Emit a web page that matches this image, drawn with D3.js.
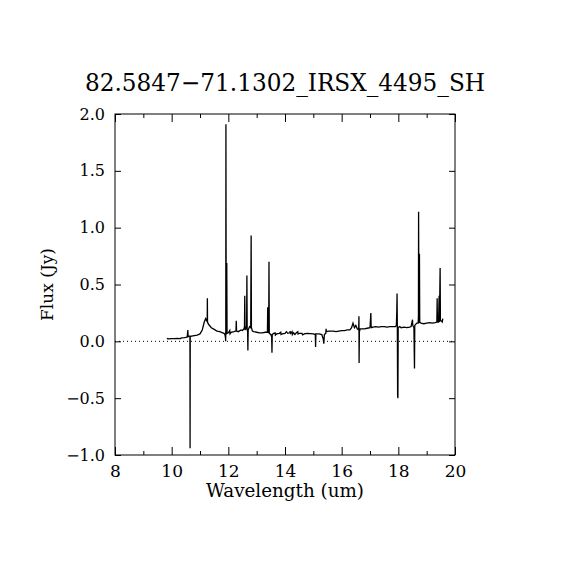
<!DOCTYPE html>
<html>
<head>
<meta charset="utf-8">
<script src="https://cdn.jsdelivr.net/npm/d3@7"></script>
<style>
  body { margin: 0; background: #fff; }
  text { font-family: "DejaVu Serif", "Liberation Serif", serif; fill: #000; }
</style>
</head>
<body>
<script>
// IRS SH spectrum

var title = '82.5847\u221271.1302_IRSX_4495_SH';

var wavelength = [
  9.83, 9.90, 10.00, 10.10, 10.20, 10.30, 10.36, 10.45, 10.50, 10.55,
  10.57, 10.58, 10.62, 10.645, 10.65, 10.655, 10.70, 10.80, 10.90, 11.00,
  11.08, 11.15, 11.20, 11.24, 11.255, 11.26, 11.265, 11.30, 11.40, 11.50,
  11.60, 11.70, 11.80, 11.85, 11.88, 11.90, 11.905, 11.91, 11.915, 11.925,
  11.94, 11.945, 11.955, 12.00, 12.05, 12.06, 12.10, 12.20, 12.27, 12.28,
  12.29, 12.35, 12.45, 12.50, 12.55, 12.57, 12.58, 12.59, 12.62, 12.645,
  12.655, 12.665, 12.68, 12.69, 12.70, 12.75, 12.79, 12.805, 12.815, 12.85,
  12.90, 13.00, 13.10, 13.20, 13.30, 13.38, 13.39, 13.40, 13.425, 13.435,
  13.445, 13.50, 13.53, 13.54, 13.55, 13.60, 13.65, 13.66, 13.70, 13.80,
  13.85, 13.86, 13.90, 14.00, 14.05, 14.10, 14.17, 14.18, 14.20, 14.25,
  14.26, 14.30, 14.35, 14.40, 14.45, 14.46, 14.50, 14.60, 14.62, 14.70,
  14.80, 14.90, 15.00, 15.07, 15.08, 15.09, 15.20, 15.30, 15.35, 15.37,
  15.39, 15.44, 15.45, 15.46, 15.55, 15.70, 15.80, 15.90, 16.00, 16.10,
  16.20, 16.29, 16.35, 16.40, 16.45, 16.50, 16.55, 16.60, 16.61, 16.615,
  16.625, 16.65, 16.70, 16.80, 16.90, 17.00, 17.03, 17.04, 17.06, 17.10,
  17.20, 17.30, 17.40, 17.50, 17.60, 17.70, 17.80, 17.90, 17.93, 17.945,
  17.955, 17.965, 17.975, 17.985, 17.995, 18.05, 18.10, 18.20, 18.30, 18.40,
  18.45, 18.50, 18.51, 18.55, 18.57, 18.58, 18.65, 18.70, 18.71, 18.715,
  18.725, 18.745, 18.755, 18.80, 18.90, 19.00, 19.10, 19.20, 19.30, 19.36,
  19.37, 19.38, 19.42, 19.44, 19.45, 19.475, 19.485, 19.52, 19.55, 19.57
];

var flux = [
  0.025, 0.022, 0.024, 0.023, 0.025, 0.024, 0.030, 0.033, 0.035, 0.040,
  0.10, 0.04, 0.045, 0.045, -0.94, 0.04, 0.045, 0.050, 0.055, 0.065,
  0.10, 0.17, 0.20, 0.18, 0.19, 0.38, 0.17, 0.15, 0.12, 0.105,
  0.09, 0.085, 0.075, 0.07, 0.06, 0.03, 0.00, 0.06, 1.91, 0.07,
  0.08, 0.69, 0.07, 0.075, 0.095, 0.065, 0.08, 0.085, 0.09, 0.18,
  0.09, 0.085, 0.10, 0.095, 0.11, 0.13, 0.40, 0.10, 0.12, 0.11,
  0.58, 0.10, 0.09, -0.08, 0.10, 0.13, 0.12, 0.93, 0.12, 0.09,
  0.085, 0.08, 0.075, 0.075, 0.08, 0.08, 0.30, 0.08, 0.08, 0.70,
  0.07, 0.06, 0.04, -0.10, 0.06, 0.07, 0.075, 0.055, 0.065, 0.07,
  0.08, 0.06, 0.065, 0.07, 0.085, 0.07, 0.075, 0.09, 0.07, 0.085,
  0.06, 0.075, 0.06, 0.075, 0.085, 0.065, 0.07, 0.07, 0.058, 0.068,
  0.07, 0.068, 0.065, 0.06, -0.05, 0.065, 0.065, 0.06, 0.02, -0.02,
  0.06, 0.07, 0.11, 0.085, 0.09, 0.09, 0.085, 0.09, 0.095, 0.095,
  0.10, 0.10, 0.12, 0.16, 0.12, 0.14, 0.11, 0.10, 0.22, -0.19,
  0.08, 0.11, 0.11, 0.11, 0.115, 0.12, 0.25, 0.13, 0.12, 0.125,
  0.13, 0.125, 0.13, 0.13, 0.125, 0.13, 0.13, 0.13, 0.14, 0.26,
  0.42, 0.12, -0.48, -0.50, 0.12, 0.13, 0.12, 0.125, 0.12, 0.125,
  0.13, 0.19, 0.14, 0.12, -0.24, 0.14, 0.16, 0.16, 0.22, 1.14,
  0.16, 0.77, 0.17, 0.16, 0.155, 0.16, 0.165, 0.16, 0.165, 0.17,
  0.38, 0.17, 0.17, 0.40, 0.17, 0.645, 0.18, 0.18, 0.17, 0.20
];

var xMajorTicks = [8, 10, 12, 14, 16, 18, 20];
var xMinorTicks = [9, 11, 13, 15, 17, 19];
var yTicks = [-1.0, -0.5, 0.0, 0.5, 1.0, 1.5, 2.0];

var outerWidth = 570,
    outerHeight = 570,
    margin = {left:115, right:115, top:114, bottom:115},
    innerWidth = outerWidth-margin.left-margin.right,
    innerHeight = outerHeight-margin.top-margin.bottom;

var svg = d3.select('body').append('svg')
  .attr('width', outerWidth)
  .attr('height', outerHeight);

var g = svg.append('g')
  .attr('transform', 'translate('+margin.left+','+margin.top+')');

var xScale = d3.scaleLinear().domain([8, 20]).range([0, innerWidth]);
var yScale = d3.scaleLinear().domain([-1, 2]).range([innerHeight, 0]);

var data = wavelength.map(function(w, i){ return {w: w, f: flux[i]}; });

// zero line
g.append('line')
  .attr('x1', 0).attr('x2', innerWidth)
  .attr('y1', yScale(0)).attr('y2', yScale(0))
  .attr('stroke', '#000')
  .attr('stroke-width', 1)
  .attr('stroke-dasharray', '1,3');

// spectrum
var line = d3.line()
  .x(function(d){ return xScale(d.w); })
  .y(function(d){ return yScale(d.f); });

g.append('path')
  .datum(data)
  .attr('d', line)
  .attr('fill', 'none')
  .attr('stroke', '#000')
  .attr('stroke-width', 1.3)
  .attr('stroke-linejoin', 'miter');

// axes, ticks pointing inward
function styleAxis(sel){
  sel.select('.domain').remove();
  sel.selectAll('line').attr('stroke', '#000');
  sel.selectAll('text').style('font-family', '"DejaVu Serif", serif').style('font-size', '16px');
}
function noLabels(sel){
  sel.selectAll('text').remove();
}

g.append('g')
  .attr('transform', 'translate(0,'+innerHeight+')')
  .call(d3.axisBottom(xScale).tickValues(xMajorTicks).tickSize(-8).tickSizeOuter(0).tickFormat(d3.format('d')))
  .call(styleAxis)
  .call(function(s){ s.selectAll('text').attr('y', 22).attr('dy', null).style('font-size', '17px'); });

g.append('g')
  .attr('transform', 'translate(0,'+innerHeight+')')
  .call(d3.axisBottom(xScale).tickValues(xMinorTicks).tickSize(-4).tickSizeOuter(0))
  .call(styleAxis).call(noLabels);

g.append('g')
  .call(d3.axisTop(xScale).tickValues(xMajorTicks).tickSize(-8).tickSizeOuter(0))
  .call(styleAxis).call(noLabels);

g.append('g')
  .call(d3.axisTop(xScale).tickValues(xMinorTicks).tickSize(-4).tickSizeOuter(0))
  .call(styleAxis).call(noLabels);

g.append('g')
  .call(d3.axisLeft(yScale).tickValues(yTicks).tickSize(-6).tickSizeOuter(0).tickPadding(10).tickFormat(d3.format('.1f')))
  .call(styleAxis);

g.append('g')
  .attr('transform', 'translate('+innerWidth+',0)')
  .call(d3.axisRight(yScale).tickValues(yTicks).tickSize(-6).tickSizeOuter(0))
  .call(styleAxis).call(noLabels);

// frame
g.append('rect')
  .attr('width', innerWidth)
  .attr('height', innerHeight)
  .attr('fill', 'none')
  .attr('stroke', '#000')
  .attr('stroke-width', 1);

// labels
svg.append('text')
  .attr('x', margin.left + innerWidth/2)
  .attr('y', 91)
  .attr('text-anchor', 'middle')
  .attr('textLength', 400)
  .attr('lengthAdjust', 'spacingAndGlyphs')
  .style('font-size', '24px')
  .text(title);

svg.append('text')
  .attr('x', margin.left + innerWidth/2)
  .attr('y', 497)
  .attr('text-anchor', 'middle')
  .attr('textLength', 158)
  .attr('lengthAdjust', 'spacingAndGlyphs')
  .style('font-size', '18px')
  .text('Wavelength (um)');

svg.append('text')
  .attr('transform', 'translate(53,'+(margin.top + innerHeight/2)+') rotate(-90)')
  .attr('text-anchor', 'middle')
  .style('font-size', '17px')
  .text('Flux (Jy)');
</script>
</body>
</html>
